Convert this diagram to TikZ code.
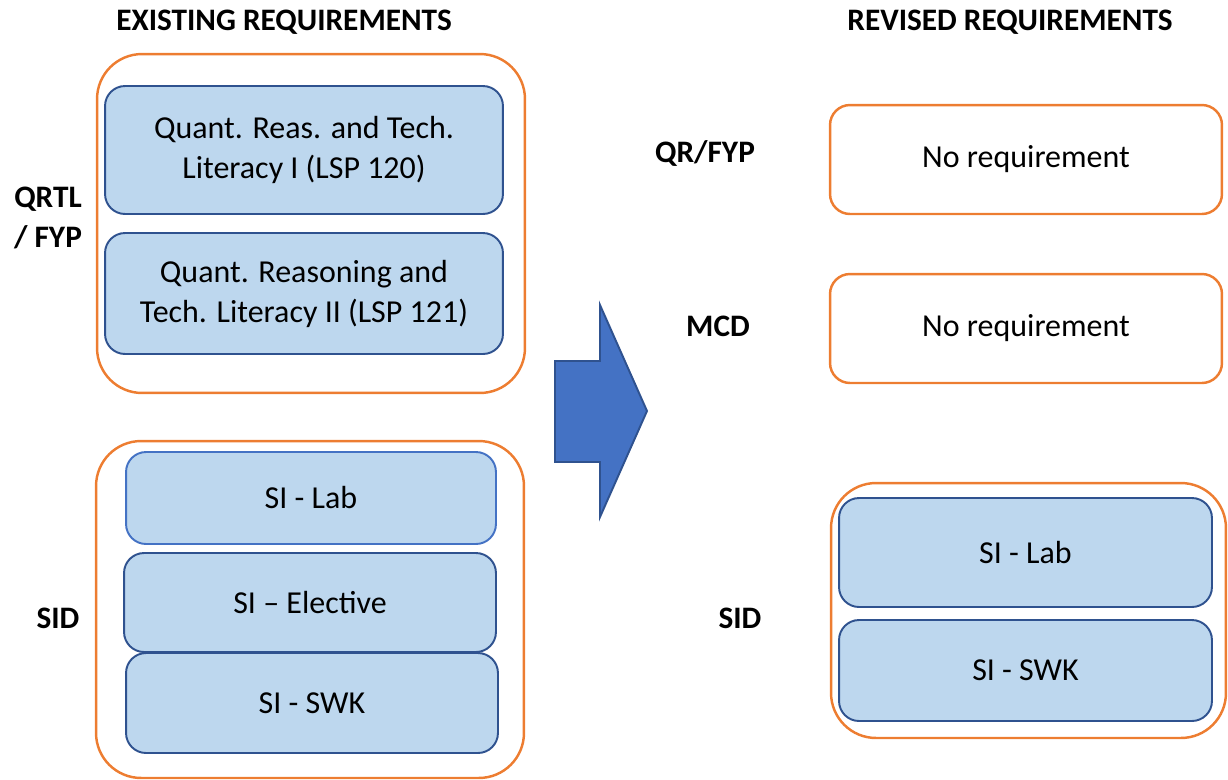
\documentclass[tikz,border=0pt]{standalone}
\usepackage{fontspec}
\setmainfont{Carlito}
\usepackage{tikz}
\usetikzlibrary{positioning}

\definecolor{grporange}{HTML}{ED7D31}
\definecolor{reqfill}{HTML}{BDD7EE}
\definecolor{reqline}{HTML}{2F528F}
\definecolor{arrowblue}{HTML}{4472C4}

\begin{document}
\begin{tikzpicture}[x=0.02cm, y=-0.02cm,
		every node/.style={inner sep=1pt, font=\fontsize{18.2}{22.8}\selectfont},
		grp/.style={draw=grporange, line width=1.4pt, rounded corners=0.9cm},
		req/.style={draw=reqline, fill=reqfill, line width=1.1pt, rounded corners=0.4cm, align=center},
		nothing/.style={draw=grporange, line width=1.4pt, rounded corners=0.4cm, align=center},
		lbl/.style={font=\fontsize{17.8}{22.8}\selectfont\bfseries, align=center}]
		\useasboundingbox (0,0) rectangle (1228,779);

		% Headings
		\node[lbl] (head_old) at (284,22) {EXISTING REQUIREMENTS};
		\node[lbl] (head_new) at (1010,22) {REVISED REQUIREMENTS};

		% Existing: QRTL / FYP group
		\node[grp, minimum width=8.56cm, minimum height=6.78cm] (grp_qrtl) at (311,223.5) {};
		\node[req, minimum width=7.96cm, minimum height=2.56cm] (lsp120) at (304,150)
			{Quant. Reas. and Tech.\\Literacy I (LSP 120)};
		\node[req, minimum width=7.96cm, minimum height=2.42cm] (lsp121) at (304,293.5)
			{Quant. Reasoning and\\Tech. Literacy II (LSP 121)};

		% Existing: SID group
		\node[grp, minimum width=8.56cm, minimum height=6.74cm] (grp_sid) at (310,609.5) {};
		\node[req, draw=arrowblue, minimum width=7.4cm, minimum height=1.84cm] (si_lab) at (311,498) {SI - Lab};
		\node[req, minimum width=7.44cm, minimum height=1.98cm] (si_elec) at (310,602.5) {SI -- Elective};
		\node[req, minimum width=7.44cm, minimum height=2.0cm] (si_swk) at (312,703) {SI - SWK};

		% Labels on the left
		\node[lbl] (lbl_qrtl) at (48,218) {QRTL\\/ FYP};
		\node[lbl] (lbl_sid) at (58,618) {SID};

		% Big arrow
		\draw[fill=arrowblue, draw=reqline, line width=1.1pt, line join=miter]
			(555,361) -- (600,361) -- (600,305) -- (647,411) -- (600,517) -- (600,462) -- (555,462) -- cycle;

		% Revised
		\node[nothing, minimum width=7.84cm, minimum height=2.18cm] (none_qr) at (1026,159.5) {No requirement};
		\node[nothing, minimum width=7.84cm, minimum height=2.18cm] (none_mcd) at (1026,328.5) {No requirement};
		\node[grp, minimum width=7.9cm, minimum height=5.1cm] (grp_sid_new) at (1028.5,610.5) {};
		\node[req, minimum width=7.46cm, minimum height=2.18cm] (si_lab_new) at (1025.5,552.5) {SI - Lab};
		\node[req, minimum width=7.46cm, minimum height=2.02cm] (si_swk_new) at (1025.5,670.5) {SI - SWK};

		% Labels in the middle
		\node[lbl] (lbl_qr) at (705,153) {QR/FYP};
		\node[lbl] (lbl_mcd) at (718,326) {MCD};
		\node[lbl] (lbl_sid_new) at (740,618) {SID};
	\end{tikzpicture}
\end{document}
